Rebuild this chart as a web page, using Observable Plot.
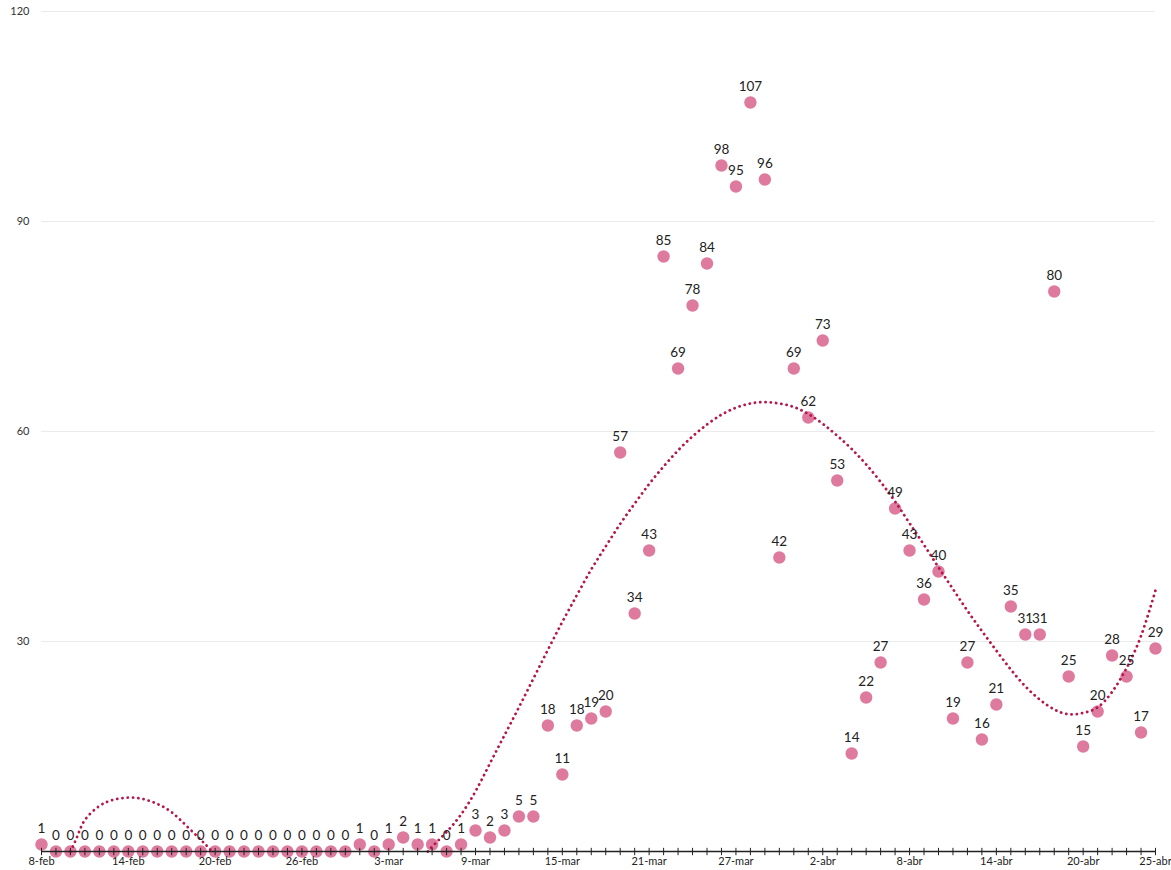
<!DOCTYPE html>
<html><head><meta charset="utf-8">
<script src="https://cdn.jsdelivr.net/npm/d3@7"></script>
<script src="https://cdn.jsdelivr.net/npm/@observablehq/plot@0.6"></script>
<style>body{margin:0;background:#fff;}</style>
</head><body><div id="chart"></div>
<script>
// Daily values, starting 8-feb (index 0) through 25-abr (index 77)
const values = [1,
  0,0,0,0,0,0,0,0,0,0,0,0,0,0,0,0,0,0,0,0,0,
  1,0,1,2,1,1,0,1,3,2,3,5,5,18,11,18,19,20,57,34,43,85,69,78,84,98,95,107,96,
  42,69,62,73,53,14,22,27,49,43,36,40,19,27,16,21,35,31,31,80,25,15,20,28,25,17,29];
// Tick labels and their day indices
const tickIdx = [0,6,12,18,24,30,36,42,48,54,60,66,72,77];
const tickLabels = ["8-feb","14-feb","20-feb","26-feb","3-mar","9-mar","15-mar","21-mar","27-mar","2-abr","8-abr","14-abr","20-abr","25-abr"];
const yTicks = [30,60,90,120];
// Trend line (two visible segments, hidden where below 0)
const trend1X = [2.0,2.5,3,4,5,6,7,8,9,10,11,11.8];
const trend1Y = [0,2.3,4.5,6.5,7.4,7.7,7.5,6.8,5.6,3.7,1.7,0];
const trend2X = [26.7,27,28,29,30,31,32,33,34,35,36,37,38,39,40,41,42,43,44,45,46,47,48,49,50,51,52,53,54,55,56,57,58,59,60,61,62,63,64,65,66,67,68,69,70,71,72,73,74,75,76,77];
const trend2Y = [0,0.7,2.8,5.3,8.6,12.6,16.6,20.6,24.7,28.8,32.8,36.6,40.3,43.6,46.8,49.7,52.5,55.0,57.3,59.3,61.0,62.4,63.4,64.0,64.2,64.0,63.5,62.5,61.1,59.4,57.5,55.3,52.8,50.0,46.9,43.8,40.6,37.5,34.4,31.5,28.7,26.0,23.6,21.7,20.3,19.6,19.8,20.6,22.8,26.2,30.8,37.3];

const data = values.map((v, i) => ({i, v}));
const trend = [
  ...trend1X.map((x, k) => ({x, y: trend1Y[k], seg: 1})),
  ...trend2X.map((x, k) => ({x, y: trend2Y[k], seg: 2}))
];
const allIdx = values.map((v, i) => i);

const chart = Plot.plot({
  width: 1171, height: 870,
  marginLeft: 41, marginRight: 16, marginTop: 11, marginBottom: 19,
  style: {fontFamily: "Lato, 'Open Sans', sans-serif", background: "#fff", overflow: "visible"},
  x: {domain: [0, 77]},
  y: {domain: [0, 120]},
  marks: [
    Plot.ruleY(yTicks, {stroke: "#ebebeb", strokeWidth: 1}),
    Plot.axisY(yTicks, {tickSize: 0, tickPadding: 12, fontSize: 11, fill: "#333", label: null}),
    Plot.dot(data, {x: "i", y: "v", r: 6.2, fill: "#de7a9d"}),
    Plot.line(trend, {x: "x", y: "y", z: "seg", stroke: "#b3174c", strokeWidth: 2.8,
      strokeDasharray: "0.1 5.2", strokeLinecap: "round", curve: "natural"}),
    Plot.ruleY([0], {stroke: "#222", strokeWidth: 1.3}),
    Plot.ruleX(allIdx, {y1: -0.6, y2: 0.45, stroke: "#222", strokeWidth: 1}),
    Plot.axisX(tickIdx, {tickSize: 0, tickPadding: 6, fontSize: 11, fill: "#222",
      tickFormat: d => tickLabels[tickIdx.indexOf(d)], label: null}),
    Plot.text(data, {x: "i", y: "v", text: d => String(d.v), dy: -16, fontSize: 13.5, fill: "#222"})
  ]
});
document.getElementById("chart").appendChild(chart);
</script>
</body></html>
